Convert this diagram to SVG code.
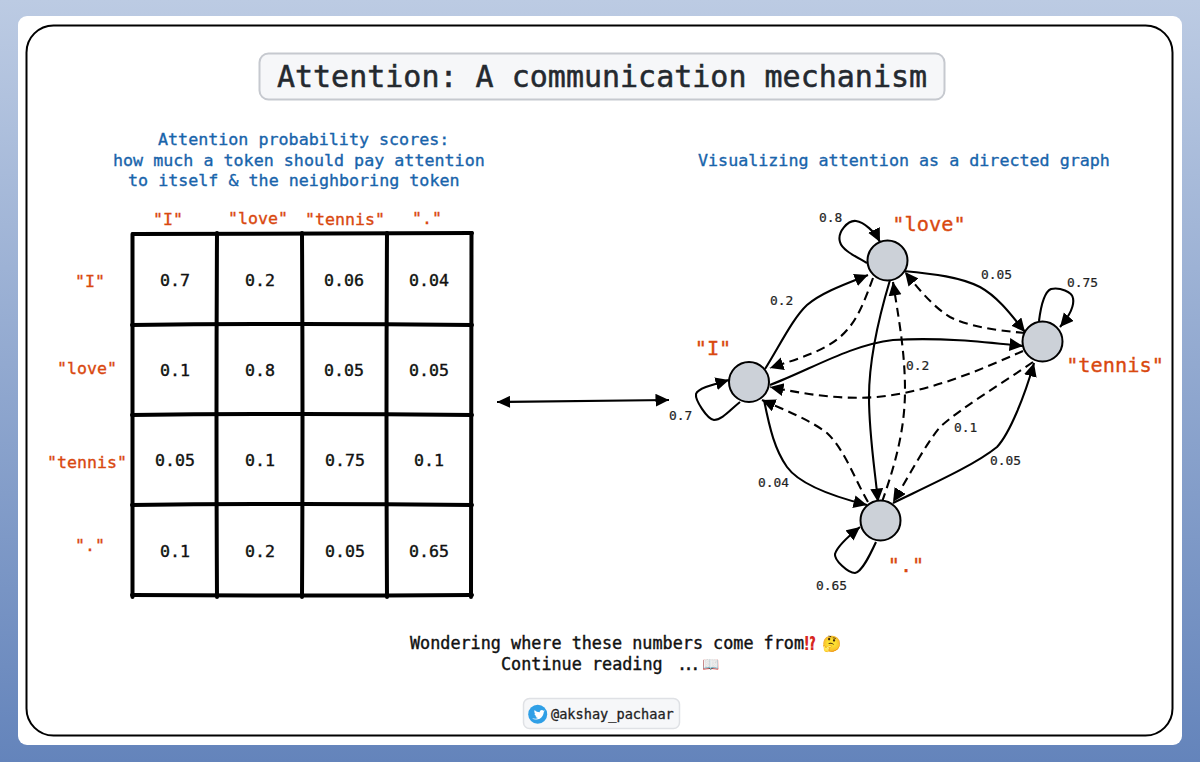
<svg xmlns="http://www.w3.org/2000/svg" width="1200" height="762" viewBox="0 0 1200 762">
<style>
text{font-family:"DejaVu Sans Mono","Liberation Mono",monospace}
.or{fill:#d9480f;stroke:#d9480f;stroke-width:.35px;font-size:16.6px}
.orb{fill:#d9480f;stroke:#d9480f;stroke-width:.35px;font-size:20.3px}
.bl{fill:#1864ab;stroke:#1864ab;stroke-width:.35px;font-size:16.7px}
.v{fill:#111;stroke:#111;stroke-width:.4px;font-size:16.6px;text-anchor:middle}
.el{fill:#222;stroke:#222;stroke-width:.2px;font-size:12.9px}
.grid{fill:none;stroke:#000;stroke-width:4;stroke-linecap:round}
.e{fill:none;stroke:#000;stroke-width:2.100}
.d{stroke-dasharray:9 5.500}
.n{fill:#ccd1d8;stroke:#000;stroke-width:2}
.bt{fill:#111;stroke:#111;stroke-width:.4px;font-size:16.8px}
</style>
<defs>
<linearGradient id="bg" x1="0" y1="0" x2="0" y2="1"><stop offset="0" stop-color="#bccbe3"/><stop offset="1" stop-color="#6484bb"/></linearGradient>
<marker id="a" markerUnits="userSpaceOnUse" markerWidth="15" markerHeight="14" refX="13.500" refY="6.500" orient="auto"><path d="M0,0L13.500,6.500L0,13Z" fill="#000"/></marker>
<marker id="b" markerUnits="userSpaceOnUse" markerWidth="15" markerHeight="14" refX="0" refY="6" orient="auto"><path d="M13,0L0,6L13,12Z" fill="#000"/></marker>
</defs>
<rect width="1200" height="762" fill="url(#bg)"/>
<rect x="18" y="16" width="1164" height="729" rx="9" fill="#fff"/>
<rect x="26.500" y="25.500" width="1146" height="710" rx="27" fill="none" stroke="#000" stroke-width="2"/>
<g id="title"><rect x="259.500" y="53.500" width="685" height="46" rx="9" fill="#f6f7f9" stroke="#c6c9cf" stroke-width="2"/>
<text x="602" y="87" text-anchor="middle" font-size="30" fill="#24292f" stroke="#24292f" stroke-width=".5">Attention: A communication mechanism</text></g>
<g id="matrix-caption">
<text class="bl" x="158" y="145">Attention probability scores:</text>
<text class="bl" x="113" y="166">how much a token should pay attention</text>
<text class="bl" x="128" y="186">to itself &amp; the neighboring token</text></g>
<text class="bl" x="698" y="166">Visualizing attention as a directed graph</text>
<g id="matrix-grid" class="grid">
<path d="M133,234Q300,233 472,233"/><path d="M132,325Q300,323 472,325"/><path d="M132,415Q300,413 472,415"/><path d="M132,505Q300,503 472,505"/><path d="M132,595Q300,596 472,595"/>
<path d="M132.500,234Q133,420 132.500,597"/><path d="M217,233Q216,420 217,597"/><path d="M302,233Q303,420 302,597"/><path d="M387,233Q386,420 387,597"/><path d="M471.500,233Q472,420 471,597"/>
</g>
<g id="matrix-labels">
<text class="or" x="168" y="225" text-anchor="middle">"I"</text><text class="or" x="258" y="224" text-anchor="middle">"love"</text><text class="or" x="345" y="225" text-anchor="middle">"tennis"</text><text class="or" x="427" y="224" text-anchor="middle">"."</text>
<text class="or" x="90" y="287" text-anchor="middle">"I"</text><text class="or" x="87" y="374" text-anchor="middle">"love"</text><text class="or" x="87" y="468" text-anchor="middle">"tennis"</text><text class="or" x="90" y="551" text-anchor="middle">"."</text>
</g>
<g id="matrix-values">
<text class="v" x="175" y="286">0.7</text><text class="v" x="260" y="286">0.2</text><text class="v" x="344" y="286">0.06</text><text class="v" x="429" y="286">0.04</text>
<text class="v" x="175" y="376">0.1</text><text class="v" x="260" y="376">0.8</text><text class="v" x="344" y="376">0.05</text><text class="v" x="429" y="376">0.05</text>
<text class="v" x="175" y="466">0.05</text><text class="v" x="260" y="466">0.1</text><text class="v" x="345" y="466">0.75</text><text class="v" x="429" y="466">0.1</text>
<text class="v" x="175" y="557">0.1</text><text class="v" x="260" y="557">0.2</text><text class="v" x="345" y="557">0.05</text><text class="v" x="429" y="557">0.65</text>
</g>
<g id="connectors">
<path class="e" d="M497,402L669,400" marker-start="url(#b)" marker-end="url(#a)"/>
<path class="e" d="M765,369C780,345 793,318 807,305C822,292 848,283 868,275" marker-end="url(#a)"/>
<path class="e d" d="M873,278C865,300 858,318 847,330C830,350 800,358 770,368" marker-end="url(#a)"/>
<path class="e" d="M903,271C935,274 960,277 980,287C1000,298 1015,320 1025,332" marker-end="url(#a)"/>
<path class="e d" d="M1025,333C990,330 965,325 950,317C932,306 918,288 905,272" marker-end="url(#a)"/>
<path class="e" d="M770,385C810,370 850,345 893,340C940,337 985,342 1023,346" marker-end="url(#a)"/>
<path class="e d" d="M1023,351C980,370 930,392 877,397C840,400 805,394 770,387" marker-end="url(#a)"/>
<path class="e" d="M890,280C878,320 869,360 869,397C869,435 875,470 878,502" marker-end="url(#a)"/>
<path class="e d" d="M882,502C895,465 905,430 905,390C905,350 898,315 893,282" marker-end="url(#a)"/>
<path class="e" d="M893,503C930,485 975,465 997,447C1010,433 1025,395 1034,363" marker-end="url(#a)"/>
<path class="e d" d="M1033,362C1000,385 965,405 940,427C925,445 908,478 893,502" marker-end="url(#a)"/>
<path class="e" d="M764,400C770,430 775,450 787,467C800,485 835,497 867,505" marker-end="url(#a)"/>
<path class="e d" d="M868,502C855,480 845,450 827,433C810,420 785,410 762,400" marker-end="url(#a)"/>
<path class="e" d="M867,263C855,256 842,250 840,242C837,232 848,220 856,221C864,222 875,232 880,242" marker-end="url(#a)"/>
<path class="e" d="M1039,321C1041,305 1044,292 1051,289C1060,287 1072,292 1073,298C1075,308 1066,320 1060,327" marker-end="url(#a)"/>
<path class="e" d="M740,402C730,410 722,420 714,420C707,419 695,400 696,394C698,388 715,384 729,380" marker-end="url(#a)"/>
<path class="e" d="M876,542C870,555 862,572 855,573C848,573 834,560 835,554C837,547 850,535 860,527" marker-end="url(#a)"/>
</g>
<g id="node-I"><circle class="n" cx="749" cy="382" r="20"/><text class="orb" x="713" y="355" text-anchor="middle">"I"</text></g>
<g id="node-love"><circle class="n" cx="887.500" cy="260.500" r="20"/><text class="orb" x="929" y="231" text-anchor="middle">"love"</text></g>
<g id="node-tennis"><circle class="n" cx="1042.500" cy="341.500" r="20"/><text class="orb" x="1115" y="372" text-anchor="middle">"tennis"</text></g>
<g id="node-dot"><circle class="n" cx="880.500" cy="520.500" r="20"/><text class="orb" x="906" y="572" text-anchor="middle">"."</text></g>
<g id="edge-labels">
<text class="el" x="819" y="222">0.8</text><text class="el" x="981" y="279">0.05</text><text class="el" x="1067" y="287">0.75</text><text class="el" x="770" y="305">0.2</text><text class="el" x="906" y="370">0.2</text><text class="el" x="669" y="420">0.7</text><text class="el" x="954" y="432">0.1</text><text class="el" x="990" y="465">0.05</text><text class="el" x="758" y="487">0.04</text><text class="el" x="816" y="590">0.65</text>
</g>
<g id="footer">
<text class="bt" x="410" y="649">Wondering where these numbers come from</text>
<text x="804" y="650" font-size="19" font-weight="bold" fill="#d7261e">⁉</text>
<text x="822" y="649" font-size="15.500">🤔</text>
<text class="bt" x="501" y="670">Continue reading</text>
<text class="bt" x="677" y="670" letter-spacing="-3.500">...</text>
<text x="702" y="669" font-size="14">📖</text>
</g>
<g id="handle"><rect x="523.500" y="698.500" width="156" height="30" rx="6" fill="#f6f7f9" stroke="#dfe1e5" stroke-width="1.500"/>
<circle cx="537.700" cy="714.300" r="9.500" fill="#2f9fe6"/>
<path d="M532,718.500c3,1.700 8.500,1.500 10.500,-2.500c1,-1.800 1.300,-3.300 1.300,-4.300l1.200,-1.200l-1.500,.3c-1,-1.500 -3.800,-1 -3.800,1.500c-2,0 -3.800,-1 -5,-2.300c-.8,1.500 -.3,3 .8,3.800l-1,-.2c0,1.300 .9,2.300 2.100,2.600l-1,.1c.4,1 1.300,1.600 2.400,1.600c-1,.8 -2.500,1 -3.800,.6z" fill="#fff"/>
<text x="551" y="719" font-size="13.600" fill="#222" stroke="#222" stroke-width=".3">@akshay_pachaar</text></g>
</svg>
